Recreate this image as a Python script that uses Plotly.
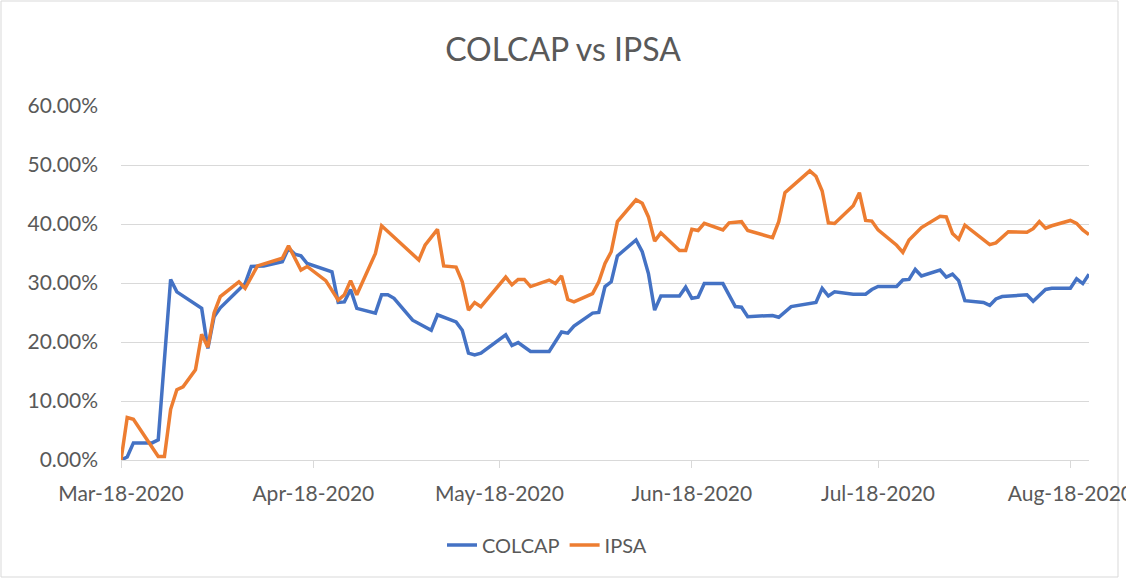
import plotly.graph_objects as go

# ---- data (values in percent) ----
colcap_dates = [
    "2020-03-18", "2020-03-19", "2020-03-20", "2020-03-23", "2020-03-24", "2020-03-26", "2020-03-27",
    "2020-03-31", "2020-04-01", "2020-04-02", "2020-04-03", "2020-04-07", "2020-04-08", "2020-04-10",
    "2020-04-13", "2020-04-14", "2020-04-15", "2020-04-16", "2020-04-17", "2020-04-21", "2020-04-22",
    "2020-04-23", "2020-04-24", "2020-04-25", "2020-04-28", "2020-04-29", "2020-04-30", "2020-05-01",
    "2020-05-04", "2020-05-07", "2020-05-08", "2020-05-09", "2020-05-11", "2020-05-12", "2020-05-13",
    "2020-05-14", "2020-05-15", "2020-05-19", "2020-05-20", "2020-05-21", "2020-05-23", "2020-05-26",
    "2020-05-28", "2020-05-29", "2020-05-30", "2020-06-02", "2020-06-03", "2020-06-04", "2020-06-05",
    "2020-06-06", "2020-06-09", "2020-06-10", "2020-06-11", "2020-06-12", "2020-06-13", "2020-06-16",
    "2020-06-17", "2020-06-18", "2020-06-19", "2020-06-20", "2020-06-23", "2020-06-25", "2020-06-26",
    "2020-06-27", "2020-07-01", "2020-07-02", "2020-07-04", "2020-07-08", "2020-07-09", "2020-07-10",
    "2020-07-11", "2020-07-14", "2020-07-16", "2020-07-17", "2020-07-18", "2020-07-21", "2020-07-22",
    "2020-07-23", "2020-07-24", "2020-07-25", "2020-07-28", "2020-07-29", "2020-07-30", "2020-07-31",
    "2020-08-01", "2020-08-04", "2020-08-05", "2020-08-06", "2020-08-07", "2020-08-11", "2020-08-12",
    "2020-08-14", "2020-08-15", "2020-08-18", "2020-08-19", "2020-08-20", "2020-08-21",
]
colcap_values = [
    0.0, 0.5, 2.9, 2.9, 3.4, 30.6, 28.5,
    25.7, 18.9, 24.3, 25.8, 29.9, 32.8, 32.9,
    33.6, 35.9, 34.9, 34.6, 33.3, 31.9, 26.7,
    26.8, 28.9, 25.7, 24.9, 28.0, 28.0, 27.4,
    23.7, 22.0, 24.6, 24.2, 23.4, 22.0, 18.1,
    17.8, 18.1, 21.2, 19.4, 19.9, 18.4, 18.4,
    21.7, 21.5, 22.7, 24.9, 25.0, 29.4, 30.2,
    34.6, 37.3, 35.3, 31.6, 25.4, 27.8, 27.8,
    29.3, 27.4, 27.6, 29.9, 29.9, 26.0, 25.9,
    24.3, 24.5, 24.2, 26.0, 26.7, 29.1, 27.8,
    28.5, 28.1, 28.1, 28.9, 29.4, 29.4, 30.5,
    30.6, 32.3, 31.2, 32.2, 31.0, 31.5, 30.4,
    27.0, 26.7, 26.2, 27.3, 27.7, 28.0, 26.9,
    28.9, 29.1, 29.1, 30.7, 29.9, 31.5,
]

ipsa_dates = [
    "2020-03-18", "2020-03-19", "2020-03-20", "2020-03-24", "2020-03-25", "2020-03-26", "2020-03-27",
    "2020-03-28", "2020-03-30", "2020-03-31", "2020-04-01", "2020-04-02", "2020-04-03", "2020-04-06",
    "2020-04-07", "2020-04-08", "2020-04-09", "2020-04-13", "2020-04-14", "2020-04-16", "2020-04-17",
    "2020-04-20", "2020-04-22", "2020-04-23", "2020-04-24", "2020-04-25", "2020-04-27", "2020-04-28",
    "2020-04-29", "2020-05-05", "2020-05-06", "2020-05-08", "2020-05-09", "2020-05-11", "2020-05-12",
    "2020-05-13", "2020-05-14", "2020-05-15", "2020-05-19", "2020-05-20", "2020-05-21", "2020-05-22",
    "2020-05-23", "2020-05-26", "2020-05-27", "2020-05-28", "2020-05-29", "2020-05-30", "2020-06-02",
    "2020-06-03", "2020-06-04", "2020-06-05", "2020-06-06", "2020-06-09", "2020-06-10", "2020-06-11",
    "2020-06-12", "2020-06-13", "2020-06-16", "2020-06-17", "2020-06-18", "2020-06-19", "2020-06-20",
    "2020-06-23", "2020-06-24", "2020-06-26", "2020-06-27", "2020-07-01", "2020-07-02", "2020-07-03",
    "2020-07-07", "2020-07-08", "2020-07-09", "2020-07-10", "2020-07-11", "2020-07-14", "2020-07-15",
    "2020-07-16", "2020-07-17", "2020-07-18", "2020-07-21", "2020-07-22", "2020-07-23", "2020-07-25",
    "2020-07-28", "2020-07-29", "2020-07-30", "2020-07-31", "2020-08-01", "2020-08-05", "2020-08-06",
    "2020-08-08", "2020-08-11", "2020-08-12", "2020-08-13", "2020-08-14", "2020-08-15", "2020-08-18",
    "2020-08-19", "2020-08-20", "2020-08-21",
]
ipsa_values = [
    0.0, 7.2, 6.9, 0.6, 0.6, 8.6, 11.9,
    12.4, 15.3, 21.3, 19.1, 24.9, 27.7, 30.2,
    29.1, 31.0, 32.9, 34.2, 36.3, 32.2, 32.8,
    30.4, 27.1, 28.0, 30.4, 28.0, 32.5, 35.0,
    39.7, 33.9, 36.4, 39.1, 32.9, 32.7, 30.2,
    25.4, 26.7, 26.0, 31.0, 29.7, 30.6, 30.6,
    29.4, 30.5, 29.9, 31.2, 27.2, 26.8, 28.2,
    30.2, 33.3, 35.3, 40.4, 44.1, 43.5, 41.2,
    37.1, 38.5, 35.5, 35.5, 39.1, 38.9, 40.1,
    39.0, 40.2, 40.4, 38.9, 37.7, 40.4, 45.3,
    49.0, 48.1, 45.6, 40.2, 40.1, 43.1, 45.3,
    40.6, 40.5, 39.0, 36.4, 35.2, 37.3, 39.4,
    41.3, 41.2, 38.4, 37.4, 39.8, 36.5, 36.8,
    38.7, 38.6, 39.2, 40.4, 39.3, 39.7, 40.6,
    40.1, 39.0, 38.2,
]

x_tick_values = ["2020-03-18", "2020-04-18", "2020-05-18", "2020-06-18", "2020-07-18", "2020-08-18"]
x_tick_labels = ["Mar-18-2020", "Apr-18-2020", "May-18-2020", "Jun-18-2020", "Jul-18-2020", "Aug-18-2020"]
y_tick_values = [0, 10, 20, 30, 40, 50, 60]
y_tick_labels = ["0.00%", "10.00%", "20.00%", "30.00%", "40.00%", "50.00%", "60.00%"]

# ---- figure ----
W, H = 1126, 579
ML, MR, MT, MB = 121, 37, 106, 119
PW, PH = W - ML - MR, H - MT - MB
FONT = "Lato, 'Open Sans', sans-serif"
TXT = "#595959"

fig = go.Figure()
fig.add_trace(go.Scatter(x=colcap_dates, y=colcap_values, mode="lines", name="COLCAP",
                         line=dict(color="#4472C4", width=3.5)))
fig.add_trace(go.Scatter(x=ipsa_dates, y=ipsa_values, mode="lines", name="IPSA",
                         line=dict(color="#ED7D31", width=3.5)))

def px2paper_x(px):
    return (px - ML) / PW

def px2paper_y(py):
    return (H - MB - py) / PH

fig.add_shape(type="rect", xref="paper", yref="paper",
              x0=px2paper_x(1), x1=px2paper_x(1118), y0=px2paper_y(577), y1=px2paper_y(1),
              line=dict(color="#D9D9D9", width=1), fillcolor="rgba(0,0,0,0)", layer="below")

fig.update_layout(
    width=W, height=H,
    margin=dict(l=ML, r=MR, t=MT, b=MB, pad=0, autoexpand=False),
    paper_bgcolor="white", plot_bgcolor="white",
    font=dict(family=FONT, color=TXT, size=20),
    title=dict(text="COLCAP vs IPSA", x=0.5, xref="container", xanchor="center",
               y=1 - 50 / H, yref="container", yanchor="middle",
               font=dict(size=32, color=TXT, family=FONT)),
    showlegend=True,
    legend=dict(orientation="h", x=px2paper_x(442), xanchor="left",
                y=px2paper_y(545), yanchor="middle",
                font=dict(size=20, color=TXT), itemwidth=30, bgcolor="rgba(0,0,0,0)"),
    xaxis=dict(type="date", range=["2020-03-18", "2020-08-21"], automargin=False,
               tickmode="array", tickvals=x_tick_values, ticktext=x_tick_labels,
               showgrid=False, showline=True, linecolor="#D9D9D9", linewidth=1,
               ticks="outside", ticklen=7, tickcolor="#D9D9D9", tickwidth=1,
               ticklabelstandoff=8, ticklabeloverflow="allow", zeroline=False,
               tickfont=dict(size=21, color=TXT)),
    yaxis=dict(range=[0, 60], tickmode="array", tickvals=y_tick_values, ticktext=y_tick_labels,
               automargin=False,
               showgrid=True, gridcolor="#D9D9D9", gridwidth=1, zeroline=False,
               showline=False, ticks="", ticklabelstandoff=22,
               tickfont=dict(size=21, color=TXT)),
)

fig.write_html("out.html", config={"displayModeBar": False},
               post_script="document.body.style.margin='0';")
